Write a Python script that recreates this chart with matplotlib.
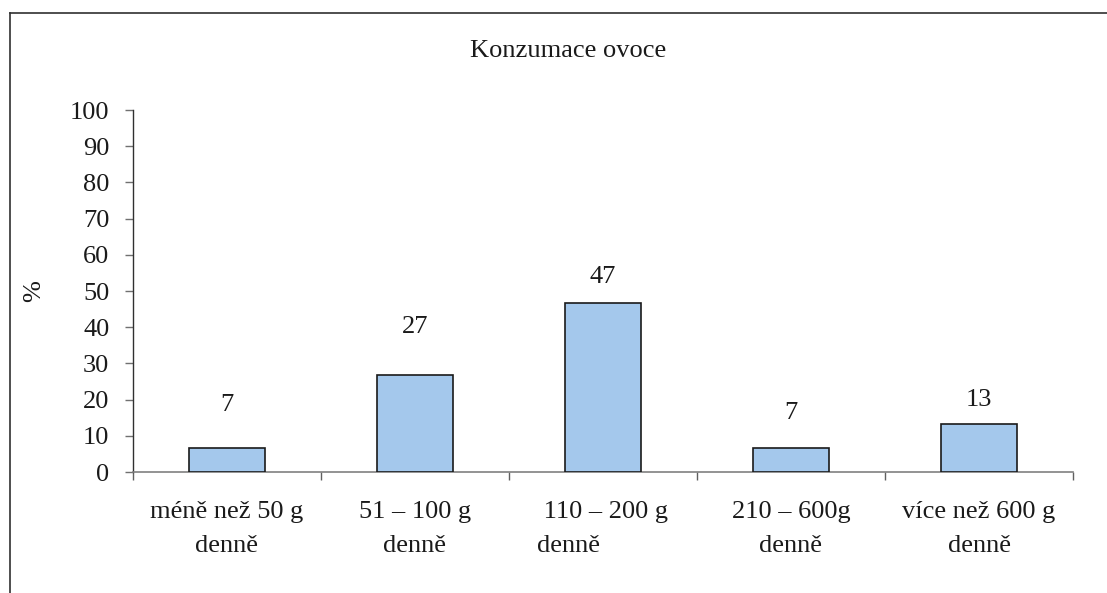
import matplotlib
matplotlib.use("Agg")
import matplotlib.pyplot as plt
from matplotlib.lines import Line2D

# Fruit consumption survey, share of respondents in %
categories = [
    "méně než 50 g\ndenně",
    "51 – 100 g\ndenně",
    " 110 – 200 g\ndenně",
    "210 – 600g\ndenně",
    "více než 600 g\ndenně",
]
shares = [6.67, 26.67, 46.67, 6.67, 13.33]
yticks = [0, 10, 20, 30, 40, 50, 60, 70, 80, 90, 100]
title = "Konzumace ovoce"
ylabel = "%"

# vertical offsets (points) of the value labels above each bar
label_offsets = [31, 35, 19, 25, 17]

plt.rcParams["font.family"] = ["Liberation Serif", "DejaVu Serif"]
FS = 19

fig = plt.figure(figsize=(11.07, 5.93), dpi=100)
ax = fig.add_axes([0.1201, 0.2040, 0.9693 - 0.1201, 0.8145 - 0.2040])

x = list(range(len(categories)))
bars = ax.bar(x, shares, width=0.4, color="#A4C8EC", edgecolor="#1a1a1a",
              linewidth=1.2, zorder=3)

for xi, v, off in zip(x, shares, label_offsets):
    ax.annotate(f"{v:.0f}", xy=(xi, v), xytext=(0, off),
                textcoords="offset points", ha="center", va="center",
                fontsize=FS, color="#1a1a1a")

ax.set_xlim(-0.5, len(categories) - 0.5)
ax.set_ylim(0, 100)
ax.set_yticks(yticks)
ax.set_yticklabels([str(t) for t in yticks], fontsize=FS, color="#1a1a1a")

# category names centred under bars, tick marks at category boundaries
ax.set_xticks(x)
ax.set_xticklabels(categories, fontsize=FS, color="#1a1a1a", linespacing=1.68)
ax.tick_params(axis="x", which="major", length=0, pad=21)
ax.set_xticks([i - 0.5 for i in range(len(categories) + 1)], minor=True)
ax.tick_params(axis="x", which="minor", length=6, width=1, color="#606060",
               direction="out")
for lbl in ax.get_xticklabels():
    lbl.set_multialignment("center")
ax.get_xticklabels()[2].set_multialignment("left")

ax.tick_params(axis="y", length=6, width=1, color="#707070", pad=11)

for side in ("top", "right"):
    ax.spines[side].set_visible(False)
ax.spines["left"].set_color("#303030")
ax.spines["left"].set_linewidth(1.0)
ax.spines["bottom"].set_color("#808080")
ax.spines["bottom"].set_linewidth(1.2)

ax.set_ylabel(ylabel, fontsize=FS, color="#1a1a1a")
ax.yaxis.set_label_coords(-0.093, 0.5)

fig.text(0.513, 1 - 51 / 593, title, ha="center", va="center",
         fontsize=FS, color="#1a1a1a")

# surrounding frame, open towards the right and bottom edges
W, H = 1107, 593
fig.add_artist(Line2D([10 / W, 10 / W], [0, 1 - 13 / H],
                      transform=fig.transFigure, color="#303030", lw=1.2))
fig.add_artist(Line2D([10 / W, 1], [1 - 13 / H, 1 - 13 / H],
                      transform=fig.transFigure, color="#303030", lw=1.2))

fig.savefig("out.png", dpi=100)
